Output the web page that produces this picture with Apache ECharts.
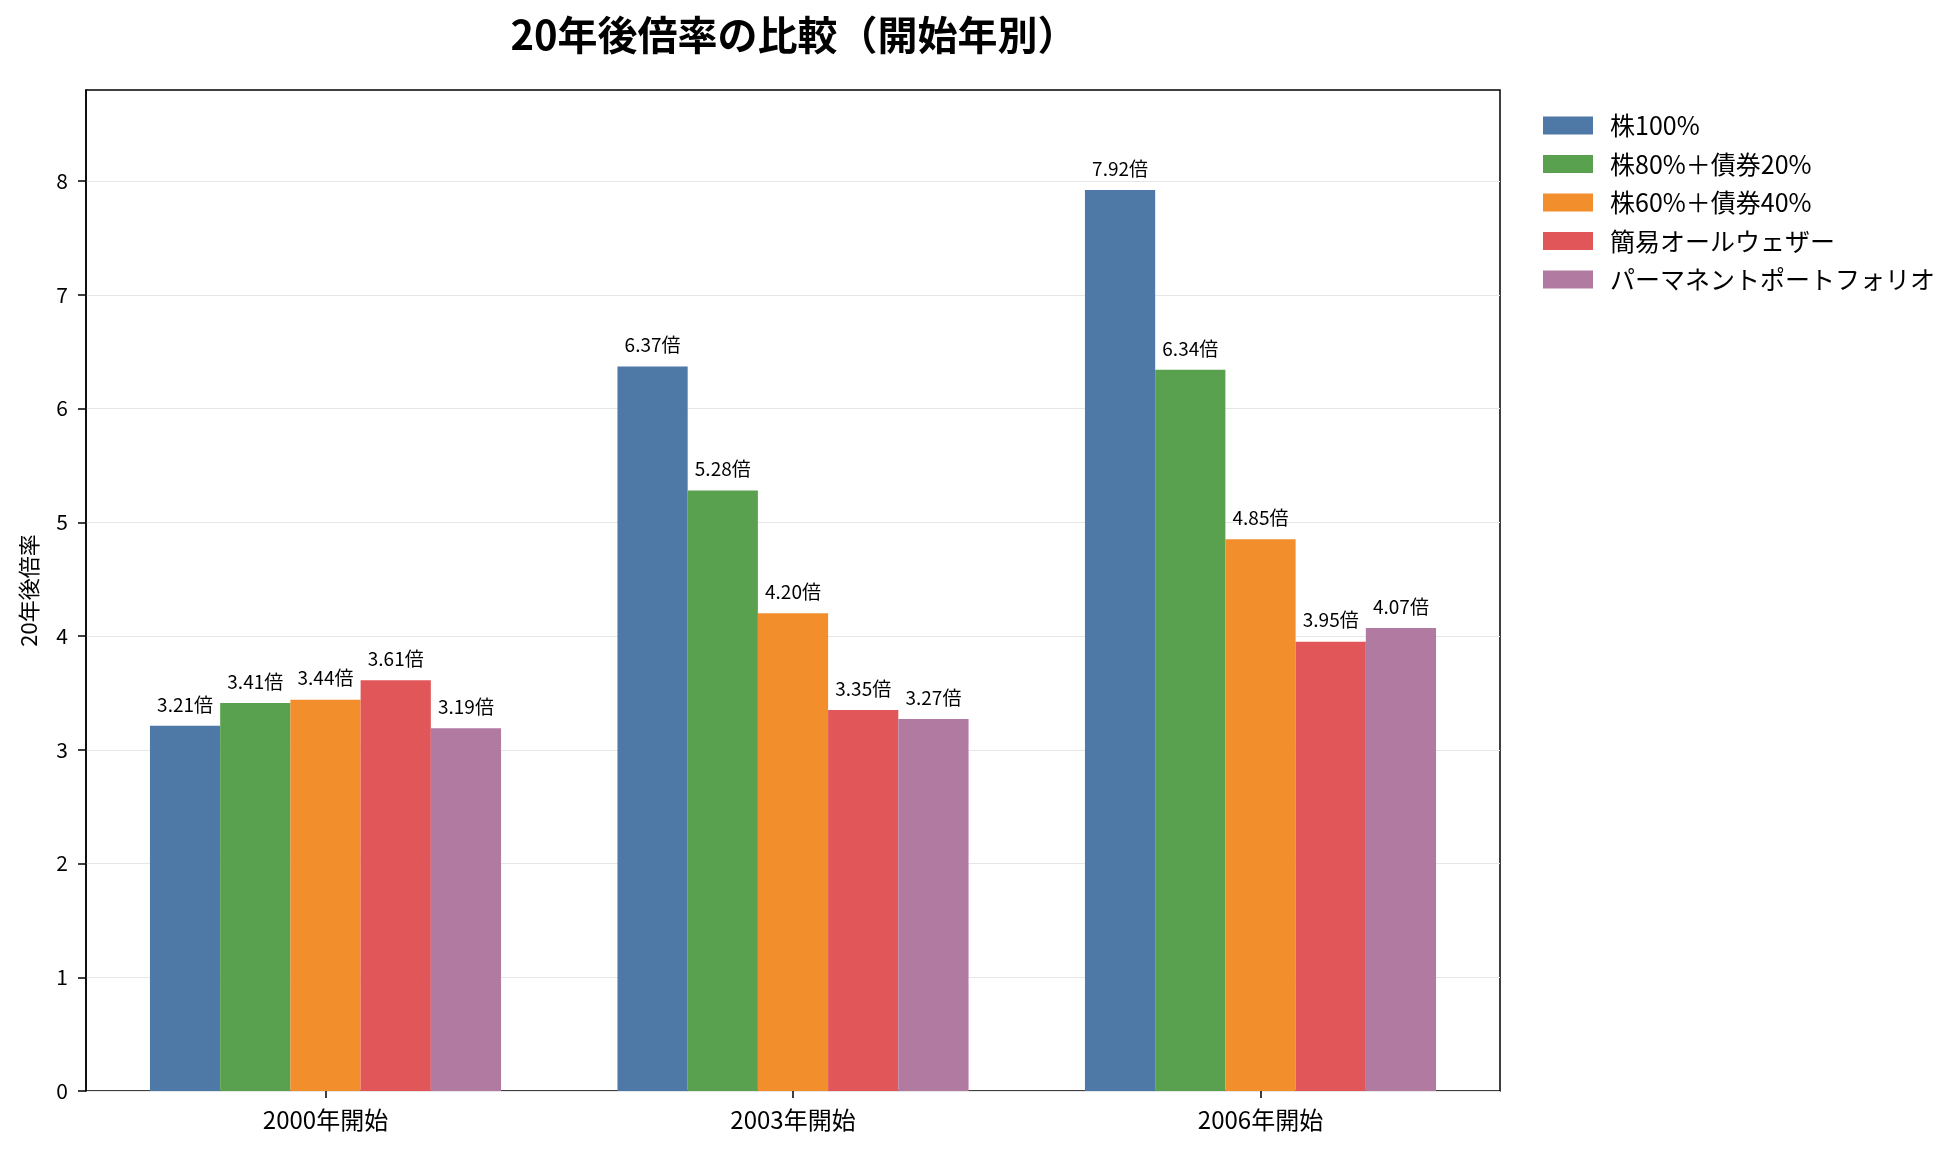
<!DOCTYPE html>
<html>
<head>
<meta charset="utf-8">
<script src="https://cdn.jsdelivr.net/npm/echarts@6/dist/echarts.min.js"></script>
<style>
  html, body { margin: 0; padding: 0; background: #fff; }
  #main { width: 1960px; height: 1152px; }
</style>
</head>
<body>
<div id="main"></div>
<script>
// 開始年
const categories = ['2000年開始', '2003年開始', '2006年開始']
// 各ポートフォリオの20年後倍率
const seriesNames = ['株100%', '株80%＋債券20%', '株60%＋債券40%', '簡易オールウェザー', 'パーマネントポートフォリオ']
const stock100 = [3.21, 6.37, 7.92]
const stock80 = [3.41, 5.28, 6.34]
const stock60 = [3.44, 4.20, 4.85]
const allWeather = [3.61, 3.35, 3.95]
const permanent = [3.19, 3.27, 4.07]
// y 軸の目盛り
const yTicks = [0, 1, 2, 3, 4, 5, 6, 7, 8]
const colors = ['#4e79a7', '#59a14f', '#f28e2b', '#e15759', '#b07aa1']

const font = '"Noto Sans CJK JP", "Noto Sans", sans-serif'
const values = [stock100, stock80, stock60, allWeather, permanent]
const yMax = 8.8

let myChart = echarts.init(document.getElementById('main'))
myChart.setOption({
  animation: false,
  textStyle: { fontFamily: font },
  title: {
    text: '20年後倍率の比較（開始年別）',
    left: 789,
    textAlign: 'center',
    top: 10,
    textStyle: { fontFamily: font, fontSize: 40, fontWeight: 'bold', color: '#000' }
  },
  legend: {
    orient: 'vertical',
    left: 1538,
    top: 108,
    itemWidth: 50,
    itemHeight: 18,
    itemGap: 13.5,
    icon: 'rect',
    textStyle: { fontFamily: font, fontSize: 25, color: '#000', padding: [0, 0, 0, 12] },
    data: seriesNames
  },
  // grid 0: 枠と y 軸, grid 1: 棒
  grid: [
    { left: 86, right: 460, top: 90, bottom: 61, show: true, borderColor: '#000', borderWidth: 1.5 },
    { left: 91.75, right: 465.75, top: 90, bottom: 61 }
  ],
  xAxis: [
    { type: 'value', gridIndex: 0, show: false, min: 0, max: 1 },
    {
      type: 'category',
      gridIndex: 1,
      data: categories,
      axisLine: { show: false },
      axisTick: { show: true, alignWithLabel: true, length: 7, lineStyle: { color: '#000', width: 1.5 } },
      axisLabel: { fontFamily: font, fontSize: 24, color: '#000', margin: 17 }
    }
  ],
  yAxis: [
    {
      type: 'value',
      gridIndex: 0,
      min: 0,
      max: yMax,
      interval: 1,
      name: '20年後倍率',
      nameLocation: 'middle',
      nameGap: 46,
      nameTextStyle: { fontFamily: font, fontSize: 22, color: '#000' },
      axisLine: { show: true, lineStyle: { color: '#000', width: 1.5 } },
      axisTick: { show: true, length: 8, customValues: yTicks, lineStyle: { color: '#000', width: 1.5 } },
      axisLabel: {
        fontFamily: font, fontSize: 21, color: '#000', margin: 18,
        customValues: yTicks
      },
      splitLine: { show: true, lineStyle: { color: '#e6e6e6', width: 1.2 } }
    },
    { type: 'value', gridIndex: 1, show: false, min: 0, max: yMax }
  ],
  series: values.map(function (d, i) {
    return {
      name: seriesNames[i],
      type: 'bar',
      xAxisIndex: 1,
      yAxisIndex: 1,
      data: d,
      barGap: '0%',
      barCategoryGap: '24.9%',
      itemStyle: { color: colors[i] },
      label: {
        show: true,
        position: 'top',
        distance: 12,
        fontFamily: font,
        fontSize: 19,
        color: '#000',
        formatter: function (p) { return p.value.toFixed(2) + '倍' }
      }
    }
  })
})
</script>
</body>
</html>
